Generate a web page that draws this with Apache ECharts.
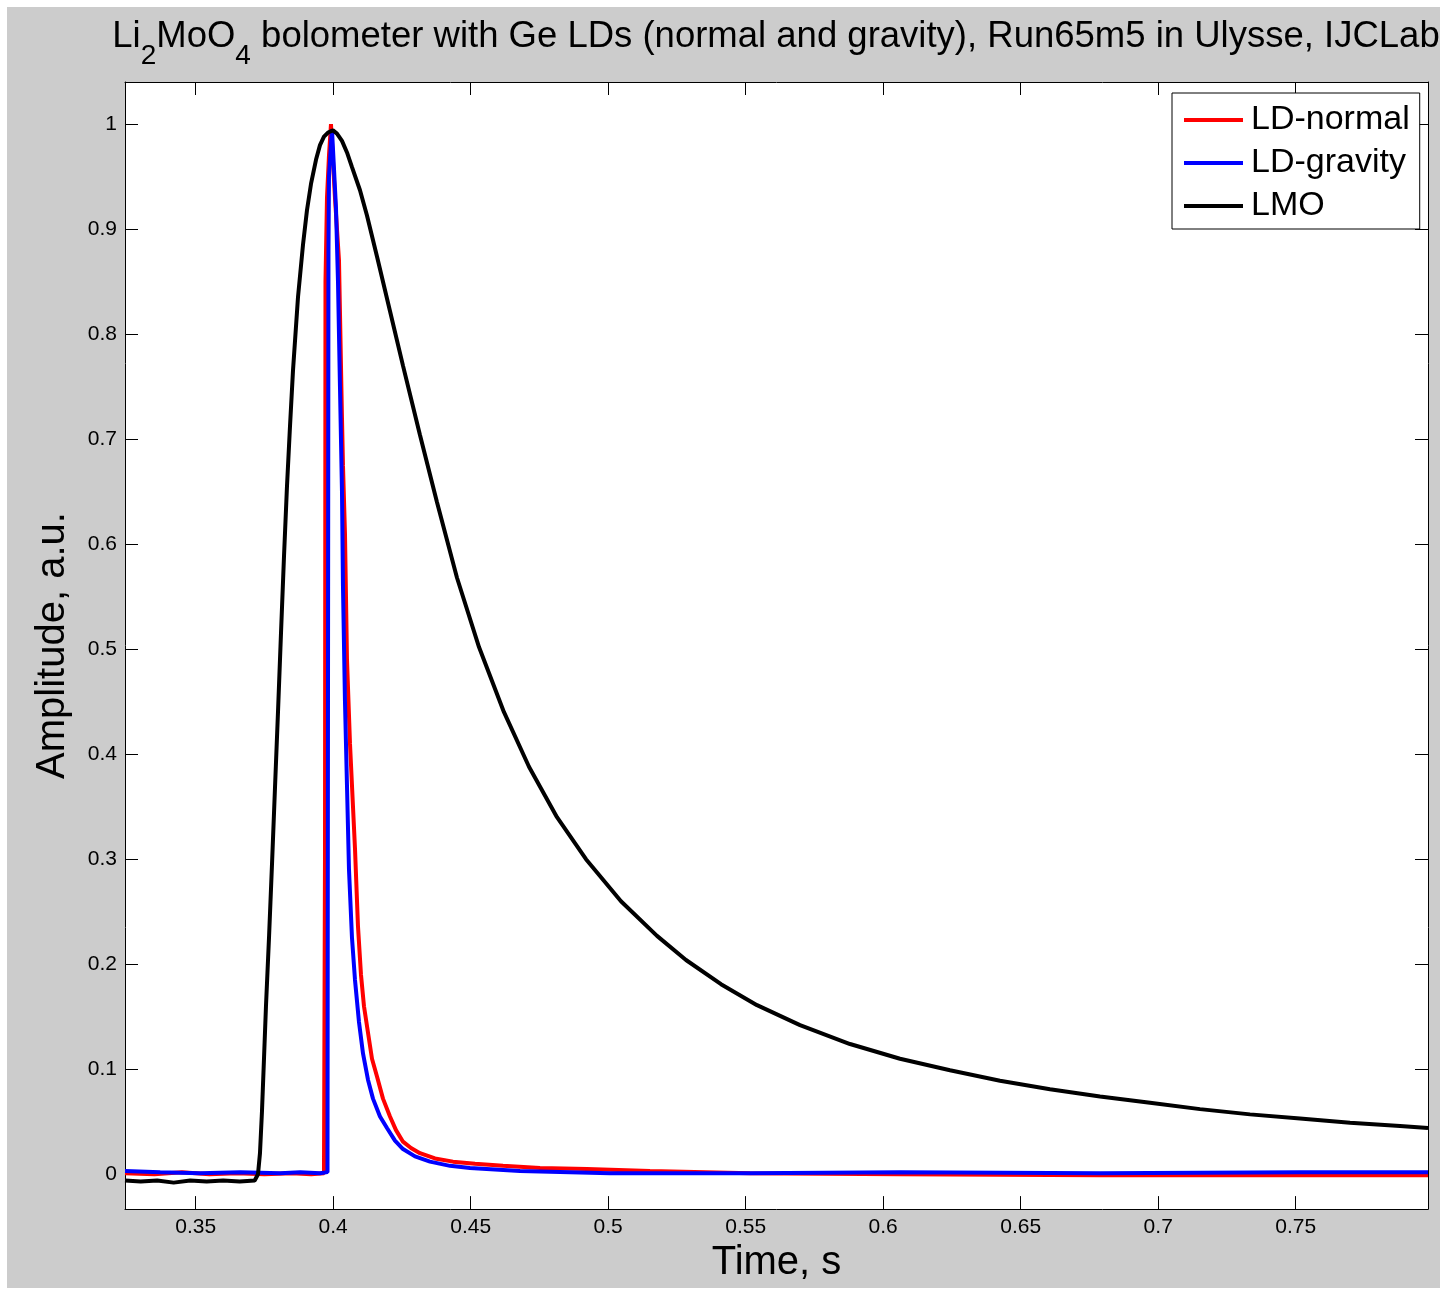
<!DOCTYPE html>
<html><head><meta charset="utf-8">
<script src="https://cdn.jsdelivr.net/npm/echarts@6/dist/echarts.min.js"></script>
<style>
html,body{margin:0;padding:0;background:#fff;width:1445px;height:1290px;overflow:hidden}
#wrap{position:absolute;left:7px;top:7px;width:1433px;height:1281px;background:#cccccc}
#chart{width:1433px;height:1281px}
</style></head>
<body><div id="wrap"><div id="chart"></div></div>
<script>
const xTicks = [0.35, 0.4, 0.45, 0.5, 0.55, 0.6, 0.65, 0.7, 0.75];
const yTicks = [0, 0.1, 0.2, 0.3, 0.4, 0.5, 0.6, 0.7, 0.8, 0.9, 1];
const seriesNames = ['LD-normal', 'LD-gravity', 'LMO'];

const ldNormalTime = [0.3243, 0.335, 0.345, 0.355, 0.365, 0.375, 0.385, 0.392, 0.39665, 0.39702, 0.39720, 0.39775, 0.39847, 0.39920, 0.40065, 0.40211, 0.40320, 0.40356, 0.40429, 0.40502, 0.40611, 0.40793, 0.40902, 0.41011, 0.41120, 0.41265, 0.41411, 0.41593, 0.41811, 0.42065, 0.42284, 0.42538, 0.42829, 0.43156, 0.43702, 0.44356, 0.45156, 0.46175, 0.47520, 0.49229, 0.51520, 0.55156, 0.60611, 0.67884, 0.75156, 0.79811];
const ldNormalAmp = [0.001, 0.000, 0.002, 0.000, 0.001, 0.000, 0.001, 0.000, 0.001, 0.30, 0.85, 0.93, 0.97, 1.00, 0.93, 0.87, 0.72, 0.675, 0.61, 0.49, 0.41, 0.31, 0.236, 0.19, 0.16, 0.135, 0.11, 0.093, 0.072, 0.055, 0.042, 0.031, 0.025, 0.020, 0.015, 0.012, 0.010, 0.008, 0.006, 0.005, 0.003, 0.001, 0.000, -0.001, -0.001, -0.001];

const ldGravityTime = [0.3243, 0.3371, 0.3516, 0.3662, 0.3807, 0.3880, 0.3952, 0.39793, 0.39811, 0.39829, 0.39847, 0.39920, 0.39956, 0.40102, 0.40175, 0.40247, 0.40320, 0.40356, 0.40429, 0.40502, 0.40575, 0.40684, 0.40793, 0.40938, 0.41084, 0.41265, 0.41447, 0.41702, 0.41956, 0.42247, 0.42538, 0.42975, 0.43520, 0.44247, 0.44975, 0.46793, 0.50065, 0.55156, 0.60611, 0.67884, 0.75156, 0.79811];
const ldGravityAmp = [0.003, 0.002, 0.001, 0.002, 0.001, 0.002, 0.001, 0.002, 0.45, 0.88, 0.95, 0.98, 0.995, 0.92, 0.85, 0.75, 0.65, 0.56, 0.45, 0.37, 0.29, 0.225, 0.185, 0.145, 0.115, 0.09, 0.072, 0.055, 0.044, 0.032, 0.024, 0.017, 0.012, 0.008, 0.006, 0.003, 0.001, 0.001, 0.002, 0.001, 0.002, 0.002];

const lmoTime = [0.3243, 0.330, 0.336, 0.342, 0.348, 0.354, 0.360, 0.366, 0.37146, 0.37266, 0.37338, 0.37411, 0.37484, 0.37556, 0.37666, 0.37775, 0.37884, 0.37993, 0.38102, 0.38211, 0.38320, 0.38429, 0.38538, 0.38720, 0.38902, 0.39047, 0.39193, 0.39375, 0.39520, 0.39665, 0.39811, 0.39993, 0.40138, 0.40320, 0.40502, 0.40684, 0.40975, 0.41229, 0.41593, 0.42065, 0.42538, 0.43156, 0.43775, 0.44502, 0.45302, 0.46211, 0.47120, 0.48138, 0.49193, 0.50465, 0.51775, 0.52829, 0.54102, 0.55411, 0.56975, 0.58793, 0.60611, 0.62429, 0.64247, 0.66065, 0.67884, 0.69702, 0.71520, 0.73338, 0.75156, 0.76975, 0.78793, 0.79811];
const lmoAmp = [-0.006, -0.007, -0.006, -0.008, -0.006, -0.007, -0.006, -0.007, -0.006, 0.000, 0.020, 0.060, 0.110, 0.160, 0.225, 0.295, 0.368, 0.440, 0.515, 0.588, 0.655, 0.712, 0.765, 0.835, 0.885, 0.918, 0.943, 0.966, 0.980, 0.988, 0.992, 0.994, 0.991, 0.984, 0.973, 0.959, 0.937, 0.913, 0.874, 0.822, 0.770, 0.704, 0.640, 0.568, 0.502, 0.440, 0.388, 0.340, 0.300, 0.260, 0.227, 0.204, 0.181, 0.161, 0.142, 0.124, 0.110, 0.099, 0.089, 0.081, 0.074, 0.068, 0.062, 0.057, 0.053, 0.049, 0.046, 0.044];

const FONT = "'Liberation Sans', Arial, sans-serif";
const zip = (a, b) => a.map((v, i) => [v, b[i]]);

const tickCommon = {
  axisLine: { show: true, onZero: false, lineStyle: { color: '#000', width: 1 } },
  splitLine: { show: false }
};

const chart = echarts.init(document.getElementById('chart'), null, { renderer: 'canvas' });
chart.setOption({
  animation: false,
  backgroundColor: 'transparent',
  title: {
    text: '{m|Li}{s|2}{m|MoO}{s|4}{m| bolometer with Ge LDs (normal and gravity), Run65m5 in Ulysse, IJCLab}',
    left: 764,
    top: 6,
    textAlign: 'center',
    textStyle: {
      fontWeight: 'normal',
      rich: {
        m: { fontSize: 36.5, fontFamily: FONT, fontWeight: 'normal', color: '#000', padding: [0, 0, 15, 0], verticalAlign: 'bottom' },
        s: { fontSize: 28, fontFamily: FONT, fontWeight: 'normal', color: '#000', verticalAlign: 'bottom' }
      }
    }
  },
  legend: {
    data: seriesNames,
    orient: 'vertical',
    left: 1165,
    top: 86,
    padding: [9, 10, 5, 12],
    icon: 'rect',
    itemWidth: 59,
    itemHeight: 4,
    itemGap: 7,
    backgroundColor: '#fff',
    borderColor: '#000',
    borderWidth: 1,
    borderRadius: 0,
    textStyle: { fontSize: 34, lineHeight: 36, fontFamily: FONT, color: '#000', padding: [0, 0, 0, 3] }
  },
  grid: {
    left: 118, top: 75, width: 1303, height: 1131,
    show: true, backgroundColor: '#fff', borderWidth: 0
  },
  xAxis: [
    Object.assign({
      type: 'value', min: 0.3243, max: 0.7981, position: 'bottom',
      name: 'Time, s', nameLocation: 'middle', nameGap: 32,
      nameTextStyle: { fontSize: 40, fontFamily: FONT, color: '#000' },
      axisTick: { show: true, inside: true, length: 13, customValues: xTicks, lineStyle: { color: '#000' } },
      axisLabel: { show: true, customValues: xTicks, formatter: v => String(v), fontSize: 21, fontFamily: FONT, color: '#000', margin: 8 }
    }, tickCommon),
    Object.assign({
      type: 'value', min: 0.3243, max: 0.7981, position: 'top',
      axisTick: { show: true, inside: true, length: 13, customValues: xTicks, lineStyle: { color: '#000' } },
      axisLabel: { show: false }
    }, tickCommon)
  ],
  yAxis: [
    Object.assign({
      type: 'value', min: -0.0332, max: 1.0401, position: 'left',
      name: 'Amplitude, a.u.', nameLocation: 'middle', nameGap: 52,
      nameTextStyle: { fontSize: 40, fontFamily: FONT, color: '#000' },
      axisTick: { show: true, inside: true, length: 13, customValues: yTicks, lineStyle: { color: '#000' } },
      axisLabel: { show: true, customValues: yTicks, formatter: v => String(v), fontSize: 21, fontFamily: FONT, color: '#000', margin: 8 }
    }, tickCommon),
    Object.assign({
      type: 'value', min: -0.0332, max: 1.0401, position: 'right',
      axisTick: { show: true, inside: true, length: 13, customValues: yTicks, lineStyle: { color: '#000' } },
      axisLabel: { show: false }
    }, tickCommon)
  ],
  series: [
    { name: 'LD-normal', type: 'line', data: zip(ldNormalTime, ldNormalAmp), symbol: 'none', lineStyle: { color: '#ff0000', width: 4 }, itemStyle: { color: '#ff0000' }, xAxisIndex: 0, yAxisIndex: 0 },
    { name: 'LD-gravity', type: 'line', data: zip(ldGravityTime, ldGravityAmp), symbol: 'none', lineStyle: { color: '#0000ff', width: 4 }, itemStyle: { color: '#0000ff' }, xAxisIndex: 0, yAxisIndex: 0 },
    { name: 'LMO', type: 'line', data: zip(lmoTime, lmoAmp), symbol: 'none', lineStyle: { color: '#000000', width: 4 }, itemStyle: { color: '#000000' }, xAxisIndex: 0, yAxisIndex: 0 }
  ]
});
</script>
</body></html>
